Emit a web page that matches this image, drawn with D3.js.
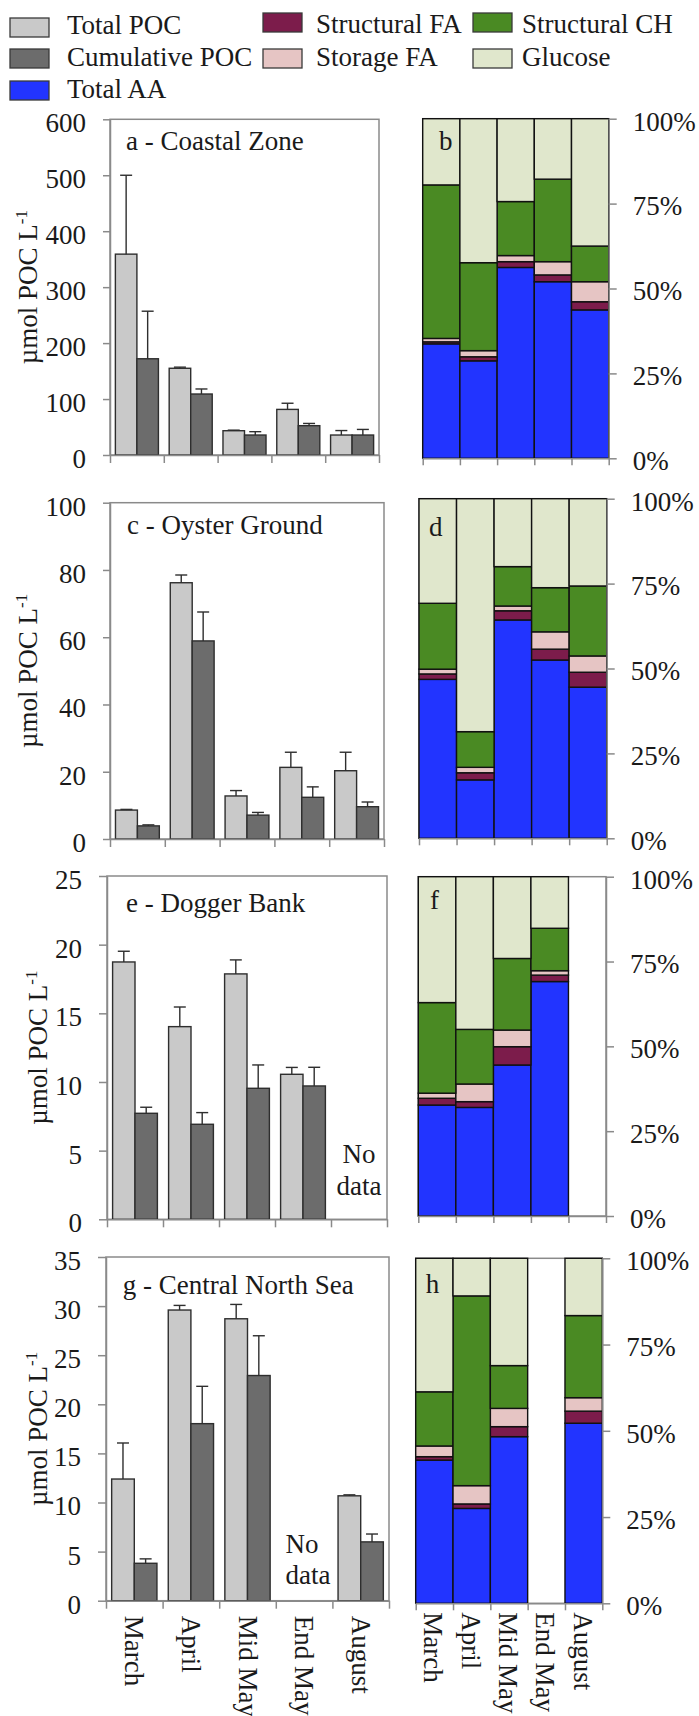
<!DOCTYPE html>
<html>
<head>
<meta charset="utf-8">
<script src="https://cdn.jsdelivr.net/npm/d3@7"></script>
<style>
  html, body { margin: 0; padding: 0; background: #fff; }
  svg { display: block; }
  svg text { font-family: "Liberation Serif", "Times New Roman", serif; }
</style>
</head>
<body>
<svg id="fig" width="699" height="1716"></svg>
<script>
// ---- categories ----
const months = ["March", "April", "Mid May", "End May", "August"];

// ---- POC concentrations (µmol POC L-1) and standard deviations ----
const coastalTotal    = [359, 155, 43.4, 81.5, 35.7];
const coastalTotalErr = [141, 2, 1, 11, 8];
const coastalCum      = [172, 109, 35.7, 52.4, 35.7];
const coastalCumErr   = [85, 9, 6, 4, 10];

const oysterTotal    = [8.6, 76.2, 12.8, 21.3, 20.3];
const oysterTotalErr = [0.2, 2.3, 1.6, 4.5, 5.5];
const oysterCum      = [3.9, 58.9, 7.1, 12.4, 9.6];
const oysterCumErr   = [0.3, 8.6, 0.8, 3.1, 1.4];

const doggerTotal    = [18.74, 14.03, 17.87, 10.56, null];
const doggerTotalErr = [0.78, 1.43, 1.02, 0.5, null];
const doggerCum      = [7.72, 6.92, 9.54, 9.71, null];
const doggerCumErr   = [0.44, 0.85, 1.7, 1.36, null];

const centralTotal    = [12.39, 29.6, 28.71, null, 10.68];
const centralTotalErr = [3.67, 0.47, 1.46, null, 0.1];
const centralCum      = [3.81, 18.03, 22.93, null, 5.99];
const centralCumErr   = [0.45, 3.8, 4.05, null, 0.8];

// ---- POC composition (% of POC) ----
const coastalAA      = [33.7, 28.7, 56.2, 52.0, 43.7];
const coastalStrFA   = [0.6, 1.2, 1.7, 2.0, 2.4];
const coastalStoFA   = [1.0, 1.8, 1.8, 3.9, 5.9];
const coastalStrCH   = [45.2, 25.9, 15.9, 24.3, 10.5];
const coastalGlucose = [19.5, 42.4, 24.4, 17.8, 37.5];

const oysterAA      = [46.8, 17.2, 64.3, 52.5, 44.5];
const oysterStrFA   = [1.6, 2.1, 2.7, 3.2, 4.4];
const oysterStoFA   = [1.4, 1.6, 1.4, 5.1, 4.8];
const oysterStrCH   = [19.4, 10.5, 11.6, 13.0, 20.6];
const oysterGlucose = [30.8, 68.6, 20.0, 26.2, 25.7];

const doggerAA      = [32.7, 32.0, 44.5, 69.1, null];
const doggerStrFA   = [2.0, 1.7, 5.4, 1.9, null];
const doggerStoFA   = [1.5, 5.2, 4.9, 1.3, null];
const doggerStrCH   = [26.7, 16.1, 21.1, 12.5, null];
const doggerGlucose = [37.1, 45.0, 24.1, 15.2, null];

const centralAA      = [41.5, 27.5, 48.3, null, 52.2];
const centralStrFA   = [1.0, 1.3, 2.9, null, 3.5];
const centralStoFA   = [3.1, 5.3, 5.3, null, 3.9];
const centralStrCH   = [15.7, 55.0, 12.4, null, 23.8];
const centralGlucose = [38.7, 10.9, 31.1, null, 16.6];

// ---- tick values ----
const coastalTicks = [0, 100, 200, 300, 400, 500, 600];
const oysterTicks  = [0, 20, 40, 60, 80, 100];
const doggerTicks  = [0, 5, 10, 15, 20, 25];
const centralTicks = [0, 5, 10, 15, 20, 25, 30, 35];
const pctTicks     = [0, 0.25, 0.5, 0.75, 1];

// ---- styling ----
const FONT = 27;
const SERIF = "'Liberation Serif', 'Times New Roman', serif";
const AXIS_GREY = "#8a8a8a";
const TEXT_COL = "#1a1a1a";
const colTotal = "#c9c9c9";
const colCum = "#6c6c6c";
const compKeys = ["aa", "strFA", "stoFA", "strCH", "glucose"];
const compLabels = ["Total AA", "Structural FA", "Storage FA", "Structural CH", "Glucose"];
const compColors = ["#2234ff", "#7c1c4b", "#e6c5c4", "#4a8a23", "#e0e7cc"];
const colorOf = d3.scaleOrdinal().domain(compKeys).range(compColors);

const svg = d3.select("#fig").attr("font-family", SERIF);

function label(sel, x, y, t) {
  return sel.append("text").attr("x", x).attr("y", y)
    .attr("font-family", SERIF).attr("font-size", FONT).attr("fill", TEXT_COL).text(t);
}

// ---- legend ----
const legendItems = [
  { label: "Total POC", color: colTotal, sx: 10, sy: 18, tx: 67, ty: 34 },
  { label: "Cumulative POC", color: colCum, sx: 10, sy: 49, tx: 67, ty: 66 },
  { label: compLabels[0], color: compColors[0], sx: 10, sy: 81, tx: 67, ty: 98 },
  { label: compLabels[1], color: compColors[1], sx: 263, sy: 13, tx: 316, ty: 33 },
  { label: compLabels[2], color: compColors[2], sx: 263, sy: 49, tx: 316, ty: 66 },
  { label: compLabels[3], color: compColors[3], sx: 473, sy: 13, tx: 522, ty: 33 },
  { label: compLabels[4], color: compColors[4], sx: 473, sy: 49, tx: 522, ty: 66 }
];
const legend = svg.append("g").attr("class", "legend");
legend.selectAll("rect").data(legendItems).join("rect")
  .attr("x", d => d.sx).attr("y", d => d.sy)
  .attr("width", 39).attr("height", 19)
  .attr("fill", d => d.color)
  .attr("stroke", "#3a3a3a").attr("stroke-width", 1.3);
legendItems.forEach(d => label(legend, d.tx, d.ty, d.label));

// ---- left column: POC bar charts ----
const leftPanels = [
  { title: "a - Coastal Zone", total: coastalTotal, totalErr: coastalTotalErr, cum: coastalCum, cumErr: coastalCumErr,
    ticks: coastalTicks, x0: 110, x1: 379, yTop: 119.3, yBot: 455, tickLen: 7, tx: 126, ty: 150, labelX: 37 },
  { title: "c - Oyster Ground", total: oysterTotal, totalErr: oysterTotalErr, cum: oysterCum, cumErr: oysterCumErr,
    ticks: oysterTicks, x0: 110, x1: 384, yTop: 502.7, yBot: 839, tickLen: 7, tx: 127, ty: 534, labelX: 37 },
  { title: "e - Dogger Bank", total: doggerTotal, totalErr: doggerTotalErr, cum: doggerCum, cumErr: doggerCumErr,
    ticks: doggerTicks, x0: 107, x1: 387, yTop: 876, yBot: 1219.3, tickLen: 8, tx: 126, ty: 911.5, labelX: 47,
    noData: { index: 4, anchor: "middle", dx: 0, lines: [56, 24] } },
  { title: "g - Central North Sea", total: centralTotal, totalErr: centralTotalErr, cum: centralCum, cumErr: centralCumErr,
    ticks: centralTicks, x0: 106, x1: 389, yTop: 1257, yBot: 1600.7, tickLen: 8, tx: 122.7, ty: 1294, labelX: 47,
    noData: { index: 3, anchor: "start", dx: 4, lines: [48, 17] }, monthLabels: true }
];

leftPanels.forEach(p => {
  const g = svg.append("g");
  const y = d3.scaleLinear().domain([0, d3.max(p.ticks)]).range([p.yBot, p.yTop]);
  const x = d3.scaleBand().domain(months).range([p.x0, p.x1]).paddingInner(0.2).paddingOuter(0.1);
  const sub = d3.scaleBand().domain(["total", "cum"]).range([0, x.bandwidth()]);
  const edges = d3.scaleLinear().domain([0, months.length]).range([p.x0, p.x1]);

  // plot frame
  g.append("rect")
    .attr("x", p.x0).attr("y", p.yTop)
    .attr("width", p.x1 - p.x0).attr("height", p.yBot - p.yTop)
    .attr("fill", "none").attr("stroke", AXIS_GREY).attr("stroke-width", 1.5);

  // bars
  const rows = months.map((m, i) => ({
    month: m,
    vals: [
      { key: "total", v: p.total[i], e: p.totalErr[i], color: colTotal },
      { key: "cum", v: p.cum[i], e: p.cumErr[i], color: colCum }
    ].filter(d => d.v != null)
  }));
  const grp = g.selectAll("g.month").data(rows).join("g")
    .attr("class", "month")
    .attr("transform", d => `translate(${x(d.month)},0)`);
  grp.selectAll("rect").data(d => d.vals).join("rect")
    .attr("x", d => sub(d.key)).attr("y", d => y(d.v))
    .attr("width", sub.bandwidth()).attr("height", d => y(0) - y(d.v))
    .attr("fill", d => d.color).attr("stroke", "#2e2e2e").attr("stroke-width", 1.4);
  // error bars
  grp.selectAll("line.err").data(d => d.vals).join("line")
    .attr("class", "err")
    .attr("x1", d => sub(d.key) + sub.bandwidth() / 2).attr("x2", d => sub(d.key) + sub.bandwidth() / 2)
    .attr("y1", d => y(d.v)).attr("y2", d => y(d.v + d.e))
    .attr("stroke", "#2e2e2e").attr("stroke-width", 1.4);
  grp.selectAll("line.cap").data(d => d.vals).join("line")
    .attr("class", "cap")
    .attr("x1", d => sub(d.key) + sub.bandwidth() / 2 - 6).attr("x2", d => sub(d.key) + sub.bandwidth() / 2 + 6)
    .attr("y1", d => y(d.v + d.e)).attr("y2", d => y(d.v + d.e))
    .attr("stroke", "#2e2e2e").attr("stroke-width", 1.4);

  // y axis
  const ya = g.append("g").attr("transform", `translate(${p.x0},0)`)
    .call(d3.axisLeft(y).tickValues(p.ticks).tickFormat(d3.format("d"))
      .tickSize(p.tickLen).tickSizeOuter(0).tickPadding(17));
  ya.attr("font-family", SERIF);
  ya.select(".domain").attr("stroke", AXIS_GREY).attr("stroke-width", 1.5);
  ya.selectAll(".tick line").attr("stroke", AXIS_GREY).attr("stroke-width", 1.5);
  ya.selectAll(".tick text").attr("font-size", FONT).attr("font-family", SERIF)
    .attr("fill", TEXT_COL).attr("dy", "0.46em");

  // x axis with ticks at category boundaries
  const xa = g.append("g").attr("transform", `translate(0,${p.yBot})`)
    .call(d3.axisBottom(edges).tickValues(d3.range(months.length + 1)).tickFormat("")
      .tickSize(8).tickSizeOuter(0));
  xa.select(".domain").attr("stroke", AXIS_GREY).attr("stroke-width", 1.5);
  xa.selectAll(".tick line").attr("stroke", AXIS_GREY).attr("stroke-width", 1.5);

  // panel title and axis title
  label(g, p.tx, p.ty, p.title);
  const yl = g.append("text")
    .attr("transform", `translate(${p.labelX},${(p.yTop + p.yBot) / 2}) rotate(-90)`)
    .attr("text-anchor", "middle").attr("font-family", SERIF)
    .attr("font-size", FONT).attr("fill", TEXT_COL);
  yl.append("tspan").text("µmol POC L");
  yl.append("tspan").attr("dy", -10).attr("font-size", 17).text("-1");

  if (p.noData) {
    const nd = p.noData;
    const cx = nd.anchor === "middle" ? x(months[nd.index]) + x.bandwidth() / 2 : x(months[nd.index]) + nd.dx;
    ["No", "data"].forEach((t, k) => {
      label(g, cx, p.yBot - nd.lines[k], t).attr("text-anchor", nd.anchor);
    });
  }

  if (p.monthLabels) {
    months.forEach(m => {
      const cx = x(m) + x.bandwidth() / 2;
      label(g, 0, 0, m).attr("transform", `translate(${cx - 9},${p.yBot + 15}) rotate(90)`);
    });
  }
});

// ---- right column: POC composition (100% stacked) ----
function compRows(aa, strFA, stoFA, strCH, glucose) {
  return months.map((m, i) => ({
    month: m, present: aa[i] != null,
    aa: aa[i] || 0, strFA: strFA[i] || 0, stoFA: stoFA[i] || 0, strCH: strCH[i] || 0, glucose: glucose[i] || 0
  }));
}
const rightPanels = [
  { letter: "b", rows: compRows(coastalAA, coastalStrFA, coastalStoFA, coastalStrCH, coastalGlucose),
    x0: 422.7, x1: 608.7, yTop: 118.7, yBot: 458.3, lx: 439, ly: 150 },
  { letter: "d", rows: compRows(oysterAA, oysterStrFA, oysterStoFA, oysterStrCH, oysterGlucose),
    x0: 419, x1: 606.7, yTop: 498.7, yBot: 838.3, lx: 429, ly: 536 },
  { letter: "f", rows: compRows(doggerAA, doggerStrFA, doggerStoFA, doggerStrCH, doggerGlucose),
    x0: 418.3, x1: 606, yTop: 876.7, yBot: 1216, lx: 430, ly: 909 },
  { letter: "h", rows: compRows(centralAA, centralStrFA, centralStoFA, centralStrCH, centralGlucose),
    x0: 415.7, x1: 602.3, yTop: 1258.3, yBot: 1603.3, lx: 425.7, ly: 1292.7, monthLabels: true }
];

rightPanels.forEach(p => {
  const g = svg.append("g");
  const y = d3.scaleLinear().domain([0, 1]).range([p.yBot, p.yTop]);
  const x = d3.scaleBand().domain(months).range([p.x0, p.x1]).padding(0);
  const edges = d3.scaleLinear().domain([0, months.length]).range([p.x0, p.x1]);

  g.append("rect")
    .attr("x", p.x0).attr("y", p.yTop)
    .attr("width", p.x1 - p.x0).attr("height", p.yBot - p.yTop)
    .attr("fill", "none").attr("stroke", AXIS_GREY).attr("stroke-width", 1.5);

  const stacked = d3.stack().keys(compKeys).offset(d3.stackOffsetExpand)(p.rows.filter(r => r.present));
  g.selectAll("g.layer").data(stacked).join("g")
    .attr("class", "layer").attr("fill", d => colorOf(d.key))
    .selectAll("rect").data(d => d).join("rect")
    .attr("x", d => x(d.data.month)).attr("width", x.bandwidth())
    .attr("y", d => y(d[1])).attr("height", d => y(d[0]) - y(d[1]))
    .attr("stroke", "#111").attr("stroke-width", 1.4);

  const ya = g.append("g").attr("transform", `translate(${p.x1},0)`)
    .call(d3.axisRight(y).tickValues(pctTicks).tickFormat(d3.format(".0%"))
      .tickSize(8).tickSizeOuter(0).tickPadding(16));
  ya.attr("font-family", SERIF);
  ya.select(".domain").attr("stroke", AXIS_GREY).attr("stroke-width", 1.5);
  ya.selectAll(".tick line").attr("stroke", AXIS_GREY).attr("stroke-width", 1.5);
  ya.selectAll(".tick text").attr("font-size", FONT).attr("font-family", SERIF)
    .attr("fill", TEXT_COL).attr("dy", "0.42em");

  const xa = g.append("g").attr("transform", `translate(0,${p.yBot})`)
    .call(d3.axisBottom(edges).tickValues(d3.range(months.length + 1)).tickFormat("")
      .tickSize(7).tickSizeOuter(0));
  xa.select(".domain").attr("stroke", AXIS_GREY).attr("stroke-width", 1.5);
  xa.selectAll(".tick line").attr("stroke", AXIS_GREY).attr("stroke-width", 1.5);

  label(g, p.lx, p.ly, p.letter);

  if (p.monthLabels) {
    months.forEach(m => {
      const cx = x(m) + x.bandwidth() / 2;
      label(g, 0, 0, m).attr("transform", `translate(${cx - 10},${p.yBot + 9}) rotate(90)`);
    });
  }
});
</script>
</body>
</html>
